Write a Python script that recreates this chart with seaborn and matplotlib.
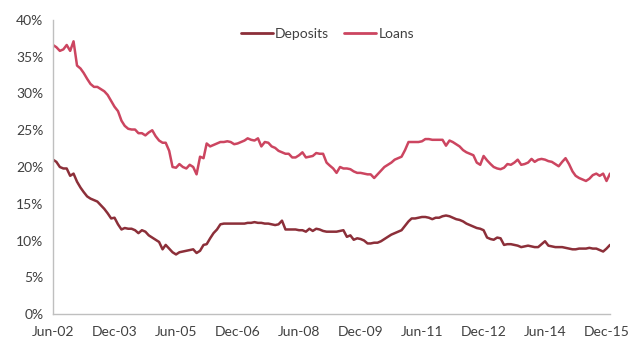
import matplotlib
matplotlib.use("Agg")
import matplotlib.pyplot as plt
import numpy as np
import pandas as pd
import seaborn as sns
from matplotlib.ticker import FuncFormatter

# Monthly series, Jun-2002 onwards (percent)
start_month = "2002-06-01"

loans = [
    36.6, 36.3, 35.8, 36.0, 36.6, 35.8, 37.1, 33.8, 33.4, 32.8,
    32.0, 31.3, 30.9, 30.9, 30.6, 30.3, 29.8, 29.0, 28.2, 27.6,
    26.3, 25.6, 25.2, 25.1, 25.1, 24.6, 24.6, 24.3, 24.7, 25.0,
    24.2, 23.6, 23.3, 23.3, 22.2, 20.0, 19.9, 20.4, 20.0, 19.8,
    20.3, 20.0, 19.0, 21.4, 21.2, 23.2, 22.8, 23.0, 23.2, 23.4,
    23.4, 23.5, 23.4, 23.1, 23.2, 23.4, 23.6, 23.9, 23.7, 23.6,
    23.9, 22.8, 23.4, 23.3, 22.8, 22.6, 22.2, 22.0, 21.8, 21.8,
    21.3, 21.3, 21.6, 22.0, 21.3, 21.4, 21.5, 21.9, 21.8, 21.8,
    20.6, 20.2, 19.8, 19.2, 20.0, 19.8, 19.8, 19.7, 19.4, 19.2,
    19.2, 19.1, 19.0, 19.0, 18.5, 19.0, 19.5, 20.0, 20.3, 20.6,
    21.0, 21.2, 21.4, 22.3, 23.4, 23.4, 23.4, 23.4, 23.5, 23.8,
    23.8, 23.7, 23.7, 23.7, 23.7, 22.9, 23.6, 23.4, 23.1, 22.8,
    22.3, 22.0, 21.8, 21.6, 20.6, 20.3, 21.5, 20.9, 20.4, 20.0,
    19.8, 19.7, 19.9, 20.4, 20.3, 20.6, 21.0, 20.3, 20.4, 20.6,
    21.1, 20.7, 21.0, 21.1, 21.0, 20.8, 20.7, 20.4, 20.1, 20.7,
    21.2, 20.4, 19.4, 18.8, 18.5, 18.3, 18.1, 18.4, 18.9, 19.1,
    18.8, 19.1, 18.1, 19.1,
]

deposits = [
    21.0, 20.7, 20.0, 19.8, 19.8, 18.8, 19.1, 18.0, 17.2, 16.6,
    16.0, 15.7, 15.5, 15.3, 14.8, 14.3, 13.7, 13.0, 13.1, 12.2,
    11.5, 11.7, 11.6, 11.6, 11.4, 11.0, 11.4, 11.2, 10.7, 10.4,
    10.1, 9.8, 8.8, 9.4, 8.9, 8.4, 8.1, 8.4, 8.5, 8.6,
    8.7, 8.8, 8.3, 8.6, 9.4, 9.5, 10.3, 11.0, 11.5, 12.2,
    12.3, 12.3, 12.3, 12.3, 12.3, 12.3, 12.3, 12.4, 12.4, 12.5,
    12.4, 12.4, 12.3, 12.3, 12.2, 12.1, 12.2, 12.7, 11.5, 11.5,
    11.5, 11.5, 11.4, 11.4, 11.2, 11.6, 11.3, 11.6, 11.5, 11.3,
    11.2, 11.2, 11.2, 11.2, 11.3, 11.4, 10.5, 10.7, 10.1, 10.3,
    10.2, 10.0, 9.6, 9.6, 9.7, 9.7, 9.9, 10.2, 10.5, 10.8,
    11.0, 11.2, 11.4, 12.0, 12.6, 13.0, 13.0, 13.1, 13.2, 13.2,
    13.1, 12.9, 13.1, 13.1, 13.3, 13.4, 13.3, 13.1, 12.9, 12.8,
    12.6, 12.3, 12.1, 11.9, 11.7, 11.6, 11.4, 10.4, 10.2, 10.1,
    10.4, 10.3, 9.4, 9.5, 9.5, 9.4, 9.3, 9.1, 9.2, 9.3,
    9.2, 9.1, 9.1, 9.5, 9.9, 9.3, 9.2, 9.1, 9.1, 9.1,
    9.0, 8.9, 8.8, 8.8, 8.9, 8.9, 8.9, 9.0, 8.9, 8.9,
    8.7, 8.5, 8.9, 9.4,
]

tick_labels = ["Jun-02", "Dec-03", "Jun-05", "Dec-06", "Jun-08",
               "Dec-09", "Jun-11", "Dec-12", "Jun-14", "Dec-15"]

series_names = ["Deposits", "Loans"]
palette = {"Deposits": "#8c2f39", "Loans": "#cc4560"}

dates = pd.date_range(start_month, periods=len(loans), freq="MS")
df = pd.concat([
    pd.DataFrame({"date": dates, "value": np.array(deposits) / 100, "series": "Deposits"}),
    pd.DataFrame({"date": dates, "value": np.array(loans) / 100, "series": "Loans"}),
])

sns.set_theme(style="white")
plt.rcParams["font.family"] = ["Lato", "DejaVu Sans"]

fig = plt.figure(figsize=(6.28, 3.38), dpi=100)
ax = fig.add_axes([53 / 628, 24 / 338, 557 / 628, 294 / 338])

sns.lineplot(data=df, x="date", y="value", hue="series", hue_order=series_names,
             palette=palette, linewidth=1.8, ax=ax, legend=True)

# Axes ranges and ticks
ax.set_xlim(dates[0], dates[-1])
ax.set_ylim(0, 0.40)
ax.set_yticks(np.arange(0, 0.401, 0.05))
ax.yaxis.set_major_formatter(FuncFormatter(lambda v, _: f"{v * 100:.0f}%"))

tick_dates = pd.date_range(start_month, periods=len(tick_labels), freq="18MS")
ax.set_xticks(tick_dates)
ax.set_xticklabels(tick_labels)

ax.set_xlabel("")
ax.set_ylabel("")

text_color = "#404040"
spine_color = "#bfbfbf"
for side in ["top", "right"]:
    ax.spines[side].set_visible(False)
for side in ["left", "bottom"]:
    ax.spines[side].set_color(spine_color)
    ax.spines[side].set_linewidth(1.0)

ax.tick_params(axis="both", which="major", direction="out", length=4, width=1,
               color=spine_color, labelcolor=text_color, labelsize=10, pad=3)
ax.tick_params(axis="x", pad=5)

leg = ax.legend(loc="center", bbox_to_anchor=(0.493, 0.952), ncol=2, frameon=False,
                fontsize=10, handlelength=2.3, handletextpad=0.15, columnspacing=1.1,
                labelcolor=text_color)
for line in leg.get_lines():
    line.set_linewidth(2.0)

fig.savefig("out.png", dpi=100)
